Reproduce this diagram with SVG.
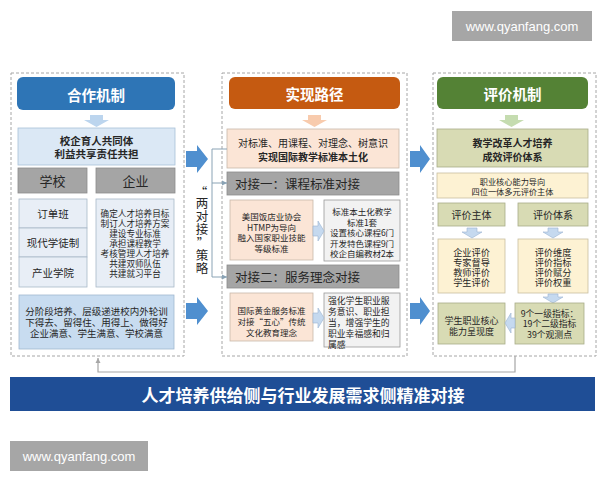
<svg xmlns="http://www.w3.org/2000/svg" width="600" height="480" viewBox="0 0 600 480">
<defs>
<style>
text{font-family:"Noto Sans CJK SC","Noto Sans",sans-serif;text-anchor:middle;dominant-baseline:central;fill:#262626}
.panel{fill:none;stroke:#a6a6a6;stroke-width:1;stroke-dasharray:3 2}
.hdr{font-size:14.5px;font-weight:bold;fill:#fff}
.b{font-weight:bold}
.wm{fill:#a6a6a6}
.wmt{font-family:"Liberation Sans","DejaVu Sans",sans-serif;font-size:13px;fill:#fff}
.bigarrow{fill:#4f8fcf}
.gray{fill:#a5a5a5;stroke:#8c8c8c;stroke-width:0.8}
.lb{fill:#dbe8f5;stroke:#a9c0d8;stroke-width:0.8}
.lb2{fill:#e8eef6;stroke:#a9b8c8;stroke-width:0.8}
.lb3{fill:#c8dcf0;stroke:#a0b8d0;stroke-width:0.8}
.pe{fill:#fbe5d6;stroke:#c9b8aa;stroke-width:0.8}
.lg{fill:#f2f2f2;stroke:#9a9a9a;stroke-width:0.8}
.ol{fill:#d8dbb4;stroke:#a8ac88;stroke-width:0.8}
.ye{fill:#fdf2d3;stroke:#c8bfa0;stroke-width:0.8}
.sa{fill:#c5d9ef;stroke:#9ab4d0;stroke-width:0.6}
.conn{fill:none;stroke:#8aa3b5;stroke-width:1}
.fb{fill:none;stroke:#a6a6a6;stroke-width:1.2}
.st{font-size:12.5px}
</style>
<marker id="ah" markerWidth="6" markerHeight="6" refX="5" refY="3" orient="auto" markerUnits="userSpaceOnUse">
<path d="M0,0.5 L5,3 L0,5.5 Z" fill="#8aa3b5"/>
</marker>
<marker id="ah2" markerWidth="6" markerHeight="6" refX="5" refY="3" orient="auto" markerUnits="userSpaceOnUse">
<path d="M0,0.5 L5,3 L0,5.5 Z" fill="#a6a6a6"/>
</marker>
</defs>
<rect width="600" height="480" fill="#fff"/>

<!-- watermarks -->
<g id="wm-top"><rect class="wm" x="452" y="11" width="140" height="30"/><text class="wmt" x="522" y="26">www.qyanfang.com</text></g>
<g id="wm-bottom"><rect class="wm" x="10" y="441" width="138" height="30"/><text class="wmt" x="79" y="456">www.qyanfang.com</text></g>

<!-- panels -->
<rect class="panel" x="11" y="73" width="173" height="283"/>
<rect class="panel" x="222" y="73" width="185" height="283"/>
<rect class="panel" x="433" y="73" width="163" height="283"/>

<!-- LEFT column -->
<g id="hdr-left"><rect x="17" y="77" width="158" height="33" rx="6" fill="#2e75b6"/><text class="hdr" x="96" y="94">合作机制</text></g>
<path d="M90,115 H103 V120 H109 L96.5,127 L84,120 H90 Z" fill="#bcd5ee"/>
<g id="community"><rect class="lb" x="18" y="128" width="157" height="37"/><text class="b" font-size="10.5" x="96.5" y="140.5">校企育人共同体</text><text class="b" font-size="10.5" x="96.5" y="153">利益共享责任共担</text></g>
<g id="school"><rect class="gray" x="18" y="168" width="69" height="25"/><text font-size="13" x="52.5" y="180.5">学校</text></g>
<g id="enterprise"><rect class="gray" x="96" y="168" width="79" height="25"/><text font-size="13" x="135.5" y="180.5">企业</text></g>
<g id="order"><rect class="lb2" x="19" y="199" width="68" height="29"/><text font-size="10.5" x="53" y="213.5">订单班</text></g>
<g id="apprentice"><rect class="lb2" x="19" y="228" width="68" height="29"/><text font-size="10.5" x="53" y="242.5">现代学徒制</text></g>
<g id="industry"><rect class="lb2" x="19" y="257" width="68" height="30"/><text font-size="10.5" x="53" y="272">产业学院</text></g>
<g id="ent-tasks"><rect class="lb2" x="96" y="199" width="78" height="88"/>
<text font-size="8.6" x="135" y="213">确定人才培养目标</text>
<text font-size="8.6" x="135" y="223">制订人才培养方案</text>
<text font-size="8.6" x="135" y="233">建设专业标准</text>
<text font-size="8.6" x="135" y="243">承担课程教学</text>
<text font-size="8.6" x="135" y="253">考核管理人才培养</text>
<text font-size="8.6" x="135" y="263">共建双师队伍</text>
<text font-size="8.6" x="135" y="273">共建就习平台</text></g>
<g id="left-result"><rect class="lb3" x="19" y="295" width="155" height="54"/>
<text font-size="9.5" x="96.5" y="311">分阶段培养、层级递进校内外轮训</text>
<text font-size="9.5" x="96.5" y="322">下得去、留得住、用得上、做得好</text>
<text font-size="9.5" x="96.5" y="333">企业满意、学生满意、学校满意</text></g>

<!-- big arrows -->
<path class="bigarrow" d="M186,151 H197 V145 L208,159 L197,173 V167 H186 Z"/>
<path class="bigarrow" d="M186,303 H197 V297 L208,311 L197,325 V319 H186 Z"/>
<path class="bigarrow" d="M410,151 H420 V145 L430,159 L420,173 V167 H410 Z"/>
<path class="bigarrow" d="M410,303 H420 V297 L430,311 L420,325 V319 H410 Z"/>

<!-- strategy -->
<g id="strategy">
<text class="st" x="201" y="191">“</text>
<text class="st" x="202" y="202">两</text>
<text class="st" x="202" y="215">对</text>
<text class="st" x="202" y="228">接</text>
<text class="st" x="203" y="242">”</text>
<text class="st" x="202" y="254">策</text>
<text class="st" x="202" y="267">略</text>
</g>

<!-- MIDDLE column -->
<g id="hdr-mid"><rect x="229" y="77" width="171" height="32" rx="6" fill="#c55a11"/><text class="hdr" x="314.5" y="93.5">实现路径</text></g>
<path d="M308,115 H321 V120 H327 L314.5,127 L302,120 H308 Z" fill="#f8cbad"/>
<g id="mid-top"><rect class="pe" x="227" y="129" width="172" height="39"/><text font-size="10" x="313" y="142.5">对标准、用课程、对理念、树意识</text><text class="b" font-size="10" x="313" y="156">实现国际教学标准本土化</text></g>
<g id="dock1"><rect class="gray" x="227" y="172" width="172" height="23"/><text font-size="12.5" x="235" y="183.5" style="text-anchor:start">对接一：课程标准对接</text></g>
<g id="d1-left"><rect class="pe" x="230" y="200" width="83" height="60"/>
<text font-size="8.5" x="271.5" y="216">美国饭店业协会</text>
<text font-size="8.5" x="271.5" y="226.5">HTMP为导向</text>
<text font-size="8.5" x="271.5" y="237">融入国家职业技能</text>
<text font-size="8.5" x="271.5" y="247.5">等级标准</text></g>
<g id="d1-right"><rect class="lg" x="324" y="200" width="76" height="61"/>
<text font-size="8.5" x="362" y="211">标准本土化教学</text>
<text font-size="8.5" x="362" y="221.5">标准1套</text>
<text font-size="8.5" x="362" y="232">设置核心课程6门</text>
<text font-size="8.5" x="362" y="242.5">开发特色课程9门</text>
<text font-size="8.5" x="362" y="253">校企自编教材2本</text></g>
<path class="sa" d="M313,226 H318 V221 L324,231 L318,241 V236 H313 Z"/>
<g id="dock2"><rect class="gray" x="227" y="265" width="172" height="23"/><text font-size="12.5" x="235" y="276.5" style="text-anchor:start">对接二：服务理念对接</text></g>
<g id="d2-left"><rect class="pe" x="230" y="293" width="83" height="48"/>
<text font-size="8.5" x="271.5" y="310">国际黄金服务标准</text>
<text font-size="8.5" x="271.5" y="321">对接“五心”传统</text>
<text font-size="8.5" x="271.5" y="332">文化教育理念</text></g>
<g id="d2-right"><rect class="lg" x="324" y="293" width="76" height="54"/>
<text font-size="8.8" x="328" y="300" style="text-anchor:start">强化学生职业服</text>
<text font-size="8.8" x="328" y="311" style="text-anchor:start">务意识、职业担</text>
<text font-size="8.8" x="328" y="322" style="text-anchor:start">当，增强学生的</text>
<text font-size="8.8" x="328" y="333" style="text-anchor:start">职业幸福感和归</text>
<text font-size="8.8" x="328" y="344" style="text-anchor:start">属感</text></g>
<path class="sa" d="M313,313 H318 V308 L324,318 L318,328 V323 H313 Z"/>

<!-- RIGHT column -->
<g id="hdr-right"><rect x="437" y="77" width="151" height="32" rx="6" fill="#548235"/><text class="hdr" x="512.5" y="93.5">评价机制</text></g>
<path d="M505,115 H518 V120 H524 L511.5,127 L499,120 H505 Z" fill="#c5dcb0"/>
<g id="eval-sys"><rect class="ol" x="437" y="129" width="151" height="38"/><text class="b" font-size="10" x="512.5" y="142.5">教学改革人才培养</text><text class="b" font-size="10" x="512.5" y="156">成效评价体系</text></g>
<g id="core"><rect class="ye" x="437" y="173" width="151" height="25"/><text font-size="8.2" x="512.5" y="180.5">职业核心能力导向</text><text font-size="8.2" x="512.5" y="191">四位一体多元评价主体</text></g>
<g id="subject"><rect class="ol" x="438" y="203" width="67" height="23"/><text font-size="10" x="471.5" y="214.5">评价主体</text></g>
<g id="system"><rect class="ol" x="518" y="203" width="70" height="23"/><text font-size="10" x="553" y="214.5">评价体系</text></g>
<path class="sa" d="M467,228 H477 V232 H482 L472,238 L462,232 H467 Z"/>
<path class="sa" d="M548,228 H558 V232 H563 L553,238 L543,232 H548 Z"/>
<g id="subjects"><rect class="ye" x="438" y="239" width="67" height="54"/>
<text font-size="9.2" x="471.5" y="252">企业评价</text>
<text font-size="9.2" x="471.5" y="262">专家督导</text>
<text font-size="9.2" x="471.5" y="272">教师评价</text>
<text font-size="9.2" x="471.5" y="282">学生评价</text></g>
<g id="dims"><rect class="ye" x="518" y="239" width="70" height="54"/>
<text font-size="9.2" x="553" y="252">评价维度</text>
<text font-size="9.2" x="553" y="262">评价指标</text>
<text font-size="9.2" x="553" y="272">评价赋分</text>
<text font-size="9.2" x="553" y="282">评价权重</text></g>
<path class="sa" d="M548,294 H558 V297 H563 L553,303 L543,297 H548 Z"/>
<g id="competence"><rect class="ol" x="438" y="303" width="67" height="41"/><text font-size="9" x="471.5" y="320">学生职业核心</text><text font-size="9" x="471.5" y="331">能力呈现度</text></g>
<g id="indicators"><rect class="ol" x="515" y="303" width="69" height="41"/><text font-size="8.8" x="549.5" y="313">9个一级指标：</text><text font-size="8.8" x="549.5" y="323.5">19个二级指标</text><text font-size="8.8" x="549.5" y="334">39个观测点</text></g>
<path class="sa" d="M515,318 H511 V313 L505,323 L511,333 V328 H515 Z"/>

<!-- connectors -->
<g id="connectors">
<path class="conn" d="M227,149 H212 V277 H227" marker-end="url(#ah)"/>
<path class="conn" d="M212,183 H227" marker-end="url(#ah)"/>
<path class="fb" d="M515,356 V372 H98 V358" marker-end="url(#ah2)"/>
</g>

<!-- banner -->
<g id="banner"><rect x="10" y="377" width="585" height="34" fill="#1f4e96"/><text font-size="17" font-weight="bold" x="303" y="394" style="fill:#fff">人才培养供给侧与行业发展需求侧精准对接</text></g>
</svg>
